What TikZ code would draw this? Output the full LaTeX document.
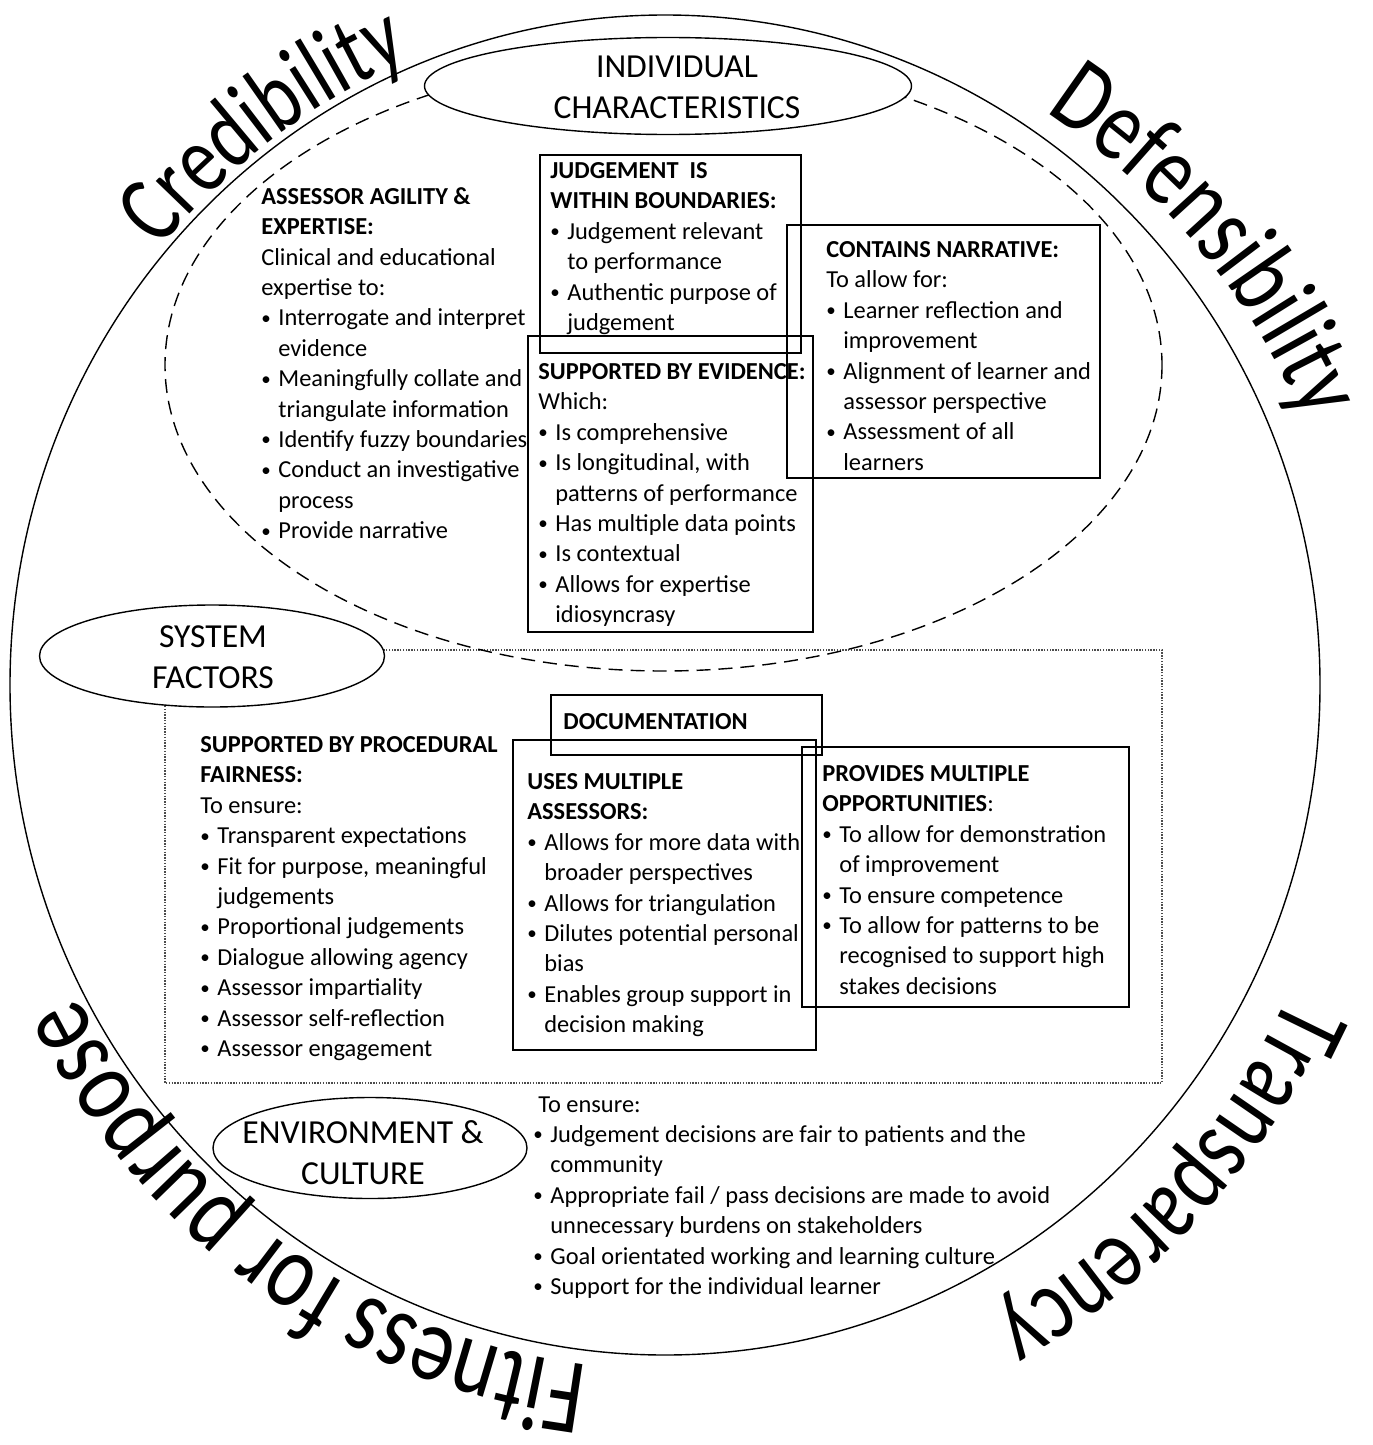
\documentclass[tikz,border=0pt]{standalone}
\usepackage{fontspec}
\setmainfont{Carlito}
\newfontfamily\rimfont[FakeStretch=0.78]{Carlito}
\usetikzlibrary{shapes.geometric,decorations.text,calc}

\newcommand{\blt}{\makebox[8.5pt][l]{\raisebox{0.8pt}{\fontsize{9.5}{9.5}\selectfont\textbullet}}}
\newcommand{\hng}{\hspace{8.5pt}}

\begin{document}
\begin{tikzpicture}[x=0.5pt,y=-0.5pt]
    \tikzset{
        txt/.style={anchor=north west,inner sep=0pt,align=left,
            font=\fontsize{12.2}{15.2}\selectfont,execute at begin node=\strut},
        oval/.style={ellipse,draw,line width=0.7pt,inner sep=0pt},
        ovaltxt/.style={align=center,inner sep=0pt,font=\fontsize{16.8}{20.5}\selectfont},
        box/.style={draw,line width=0.8pt},
        rim/.style 2 args={decorate,decoration={text along path,text align=center,
            text={|\rimfont\fontsize{#1}{#1}\selectfont|#2}}}
    }
    \useasboundingbox (0,0) rectangle (1372,1445);
    \coordinate (mid) at (665,685);

    % system factors area and individual area
    \draw[black!70,line width=0.6pt,dash pattern=on 0.7pt off 0.7pt] (165,650) rectangle (1162,1083);
    \draw[line width=0.7pt,dash pattern=on 7pt off 4pt] (663.5,365) ellipse [x radius=498.5, y radius=306];

    \node[oval,fill=white,minimum width=243.5pt,minimum height=48.5pt] (indiv) at (668,86) {};
    \node[ovaltxt] (indivtxt) at (677,87) {INDIVIDUAL\\CHARACTERISTICS};
    \node[oval,fill=white,minimum width=172.5pt,minimum height=51pt] (sysf) at (212,656) {};
    \node[ovaltxt] (sysftxt) at (213,657) {SYSTEM\\FACTORS};
    \node[oval,minimum width=157pt,minimum height=50.5pt] (envc) at (370,1148) {};
    \node[ovaltxt] (envctxt) at (363,1153) {ENVIRONMENT \&\\CULTURE};

    % boxes
    \draw[box] (540,155) rectangle (801,353);
    \draw[box] (787,225) rectangle (1100,478);
    \draw[box] (528,336) rectangle (813,632);
    \draw[box] (551,695) rectangle (822,755);
    \draw[box] (513,740) rectangle (816,1050);
    \draw[box] (802,747) rectangle (1129,1007);

    \node[txt] (agility) at (261,187) {\textbf{ASSESSOR AGILITY \&}\\
        \textbf{EXPERTISE:}\\
        Clinical and educational\\
        expertise to:\\
        \blt Interrogate and interpret\\
        \hng evidence\\
        \blt Meaningfully collate and\\
        \hng triangulate information\\
        \blt Identify fuzzy boundaries\\
        \blt Conduct an investigative\\
        \hng process\\
        \blt Provide narrative};
    \node[txt] (bounds) at (550,162) {\textbf{JUDGEMENT\ \ IS}\\
        \textbf{WITHIN BOUNDARIES:}\\
        \blt Judgement relevant\\
        \hng to performance\\
        \blt Authentic purpose of\\
        \hng judgement};
    \node[txt] (narrative) at (826,241) {\textbf{CONTAINS NARRATIVE:}\\
        To allow for:\\
        \blt Learner reflection and\\
        \hng improvement\\
        \blt Alignment of learner and\\
        \hng assessor perspective\\
        \blt Assessment of all\\
        \hng learners};
    \node[txt] (evidence) at (538,363) {\textbf{SUPPORTED BY EVIDENCE:}\\
        Which:\\
        \blt Is comprehensive\\
        \blt Is longitudinal, with\\
        \hng patterns of performance\\
        \blt Has multiple data points\\
        \blt Is contextual\\
        \blt Allows for expertise\\
        \hng idiosyncrasy};
    \node[txt] (docs) at (563,708) {\textbf{DOCUMENTATION}};
    \node[txt] (assessors) at (527,773) {\textbf{USES MULTIPLE}\\
        \textbf{ASSESSORS:}\\
        \blt Allows for more data with\\
        \hng broader perspectives\\
        \blt Allows for triangulation\\
        \blt Dilutes potential personal\\
        \hng bias\\
        \blt Enables group support in\\
        \hng decision making};
    \node[txt] (opportunities) at (822,765) {\textbf{PROVIDES MULTIPLE}\\
        \textbf{OPPORTUNITIES}:\\
        \blt To allow for demonstration\\
        \hng of improvement\\
        \blt To ensure competence\\
        \blt To allow for patterns to be\\
        \hng recognised to support high\\
        \hng stakes decisions};
    \node[txt] (fairness) at (200,736) {\textbf{SUPPORTED BY PROCEDURAL}\\
        \textbf{FAIRNESS:}\\
        To ensure:\\
        \blt Transparent expectations\\
        \blt Fit for purpose, meaningful\\
        \hng judgements\\
        \blt Proportional judgements\\
        \blt Dialogue allowing agency\\
        \blt Assessor impartiality\\
        \blt Assessor self-reflection\\
        \blt Assessor engagement};
    \node[txt] (culture) at (533,1096) {\hspace{2.5pt}To ensure:\\
        \blt Judgement decisions are fair to patients and the\\
        \hng community\\
        \blt Appropriate fail / pass decisions are made to avoid\\
        \hng unnecessary burdens on stakeholders\\
        \blt Goal orientated working and learning culture\\
        \blt Support for the individual learner};

    % outer circle and its four words
    \draw[line width=0.7pt] (mid) ellipse [x radius=655, y radius=670];
    \path[rim={49}{Credibility}] ($(mid)+(-171:660 and 678)$)
        arc[start angle=-171, end angle=-81, x radius=660, y radius=678];
    \path[rim={52}{Defensibility}] ($(mid)+(-84.5:693 and 685)$)
        arc[start angle=-84.5, end angle=5.5, x radius=693, y radius=685];
    \path[rim={52}{Transparency}] ($(mid)+(-1:690 and 722)$)
        arc[start angle=-1, end angle=89, x radius=690, y radius=722];
    \path[rim={54}{Fitness for purpose}] ($(mid)+(79.5:660 and 685)$)
        arc[start angle=79.5, end angle=169.5, x radius=660, y radius=685];
\end{tikzpicture}
\end{document}
